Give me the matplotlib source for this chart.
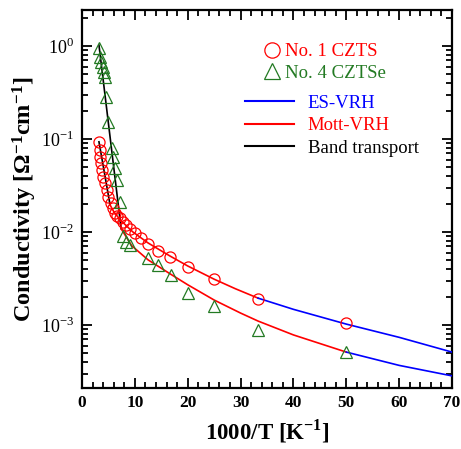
import matplotlib
matplotlib.use("Agg")
import matplotlib.pyplot as plt
from matplotlib.lines import Line2D
from matplotlib.ticker import MultipleLocator, LogLocator, FixedLocator

plt.rcParams['font.family'] = ['Liberation Serif', 'DejaVu Serif']
plt.rcParams['mathtext.fontset'] = 'custom'
plt.rcParams['mathtext.rm'] = 'Liberation Serif'
plt.rcParams['mathtext.bf'] = 'Liberation Serif:bold'

# No. 1 CZTS data (1000/T, conductivity)
czts_x = [3.2, 3.4, 3.45, 3.6, 3.8, 4.0, 4.4, 4.7, 5.0, 5.5, 5.9, 6.3, 6.7, 7.1,
          7.7, 8.3, 9.1, 10.0, 11.1, 12.5, 14.3, 16.7, 20.0, 25.0, 33.3, 50.0]
czts_y = [0.093, 0.076, 0.064, 0.055, 0.046, 0.039, 0.0336, 0.0283, 0.0238, 0.0205,
          0.0180, 0.0160, 0.0150, 0.0140, 0.0128, 0.0119, 0.0107, 0.0098, 0.0087,
          0.0074, 0.0063, 0.0054, 0.0042, 0.0031, 0.0019, 0.00104]

# No. 4 CZTSe data
cztse_x = [3.2, 3.4, 3.6, 4.0, 4.2, 4.4, 4.6, 4.9, 5.7, 5.9, 6.2, 6.6, 7.2, 7.7,
           8.4, 9.1, 12.4, 14.3, 16.8, 20.0, 25.0, 33.3, 50.0]
cztse_y = [0.95, 0.76, 0.67, 0.59, 0.53, 0.46, 0.28, 0.152, 0.080, 0.064, 0.049,
           0.036, 0.021, 0.0090, 0.0078, 0.0072, 0.0053, 0.0044, 0.0034, 0.0022,
           0.0016, 0.00088, 0.00051]

# fitted curves
band1_x = [3.2, 5.3]
band1_y = [0.093, 0.0195]
band4_x = [3.2, 7.4]
band4_y = [1.02, 0.0108]

mott1_x = [5.3, 6.0, 7.2, 9.6, 12.5, 14.3, 16.65, 20.0, 25.0, 29.0, 33.3]
mott1_y = [0.0195, 0.0165, 0.0135, 0.0100, 0.0076, 0.0066, 0.0055, 0.0043, 0.0031,
           0.00245, 0.00194]
es1_x = [33.3, 40.0, 50.0, 60.0, 70.0]
es1_y = [0.00194, 0.00147, 0.00102, 0.000735, 0.00051]

mott4_x = [7.4, 9.4, 12.5, 16.8, 20.0, 25.0, 30.0, 33.3, 40.0, 50.0]
mott4_y = [0.0108, 0.0071, 0.0050, 0.0035, 0.0027, 0.00185, 0.00134, 0.00110,
           0.00078, 0.00051]
es4_x = [50.0, 60.0, 70.0]
es4_y = [0.00051, 0.000367, 0.000283]

red = '#ff0000'
blue = '#0000ff'
green = '#237a23'

fig = plt.figure(figsize=(4.61, 4.49), dpi=100)
ax = fig.add_axes([0.178, 0.136, 0.8025, 0.842])

ax.plot(band1_x, band1_y, color='black', lw=1.2, zorder=3)
ax.plot(band4_x, band4_y, color='black', lw=1.2, zorder=3)
ax.plot(mott1_x, mott1_y, color=red, lw=1.2, zorder=3)
ax.plot(mott4_x, mott4_y, color=red, lw=1.2, zorder=3)
ax.plot(es1_x, es1_y, color=blue, lw=1.2, zorder=3)
ax.plot(es4_x, es4_y, color=blue, lw=1.2, zorder=3)

ax.plot(czts_x, czts_y, 'o', ms=8, mfc='none', mec=red, mew=0.9, zorder=4)
ax.plot(cztse_x, cztse_y, '^', ms=8, mfc='none', mec=green, mew=0.9, zorder=4)

ax.set_yscale('log')
ax.set_xlim(0, 70)
ax.set_ylim(2.1e-4, 2.44)
ax.xaxis.set_major_locator(MultipleLocator(10))
ax.xaxis.set_minor_locator(MultipleLocator(2))
ax.yaxis.set_major_locator(FixedLocator([1e-3, 1e-2, 1e-1, 1e0]))
ax.yaxis.set_minor_locator(LogLocator(base=10, subs=range(2, 10)))
ax.set_yticklabels(['$10^{-3}$', '$10^{-2}$', '$10^{-1}$', '$10^{0}$'])

ax.tick_params(which='both', direction='in', top=True, right=True, width=1.3)
ax.tick_params(which='major', length=7)
ax.tick_params(which='minor', length=4)
ax.tick_params(axis='x', labelsize=12.5, pad=5)
ax.tick_params(axis='y', labelsize=13, pad=6)
for lab in ax.get_xticklabels():
    lab.set_fontweight('bold')
for s in ax.spines.values():
    s.set_linewidth(1.6)

ax.set_xlabel('1000/T [K$^{\\mathbf{-1}}$]', fontsize=16.5, fontweight='bold', labelpad=5)
ax.set_ylabel('Conductivity [$\\mathbf{\\Omega^{-1}cm^{-1}}$]', fontsize=17.5,
              fontweight='bold', labelpad=1)

h1 = [Line2D([], [], ls='none', marker='o', ms=11, mfc='none', mec=red, mew=0.9),
      Line2D([], [], ls='none', marker='^', ms=11, mfc='none', mec=green, mew=0.9)]
leg1 = ax.legend(h1, ['No. 1 CZTS', 'No. 4 CZTSe'], loc='upper left',
                 bbox_to_anchor=(0.463, 0.932), frameon=False, fontsize=13.5,
                 handletextpad=0.1, handlelength=1.2, labelspacing=0.25,
                 labelcolor=[red, green], borderaxespad=0)
ax.add_artist(leg1)

h2 = [Line2D([], [], color=blue, lw=1.5),
      Line2D([], [], color=red, lw=1.5),
      Line2D([], [], color='black', lw=1.5)]
ax.legend(h2, ['ES-VRH', 'Mott-VRH', 'Band transport'], loc='upper left',
          bbox_to_anchor=(0.42, 0.795), frameon=False, fontsize=13.5,
          handlelength=2.6, handletextpad=0.75, labelspacing=0.28,
          labelcolor=[blue, red, 'black'], borderaxespad=0)

fig.savefig('out.png', dpi=100)
